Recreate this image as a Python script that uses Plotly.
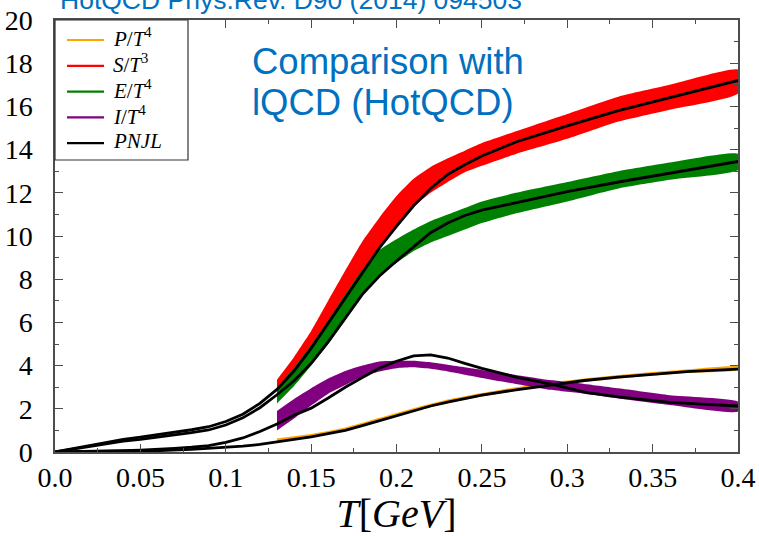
import plotly.graph_objects as go

# ---------------- lattice QCD bands (HotQCD) ----------------
T_lat = [0.13, 0.14, 0.15, 0.16, 0.17, 0.18, 0.19, 0.20, 0.21, 0.22, 0.23,
         0.24, 0.25, 0.27, 0.30, 0.33, 0.36, 0.40]
S_lat_lo = [2.80, 3.55, 4.50, 5.80, 7.10, 8.35, 9.40, 10.45, 11.35, 12.00, 12.50,
            12.95, 13.25, 13.80, 14.50, 15.30, 15.85, 16.60]
S_lat_hi = [3.35, 4.40, 5.60, 7.00, 8.40, 9.75, 10.85, 11.85, 12.65, 13.20, 13.60,
            13.95, 14.30, 14.85, 15.65, 16.45, 17.00, 17.70]
E_lat_lo = [2.25, 3.05, 4.00, 5.00, 6.10, 7.25, 8.15, 8.75, 9.30, 9.70, 10.00,
            10.30, 10.60, 11.05, 11.60, 12.20, 12.60, 13.05]
E_lat_hi = [3.00, 3.90, 4.95, 6.10, 7.30, 8.45, 9.35, 9.85, 10.30, 10.70, 11.00,
            11.30, 11.60, 12.00, 12.50, 13.00, 13.40, 13.80]

T_lat_I = [0.13, 0.14, 0.15, 0.16, 0.17, 0.18, 0.19, 0.20, 0.21, 0.22, 0.23,
           0.24, 0.25, 0.27, 0.29, 0.31, 0.33, 0.36, 0.40]
I_lat_lo = [1.00, 1.55, 2.15, 2.70, 3.10, 3.50, 3.73, 3.88, 3.92, 3.85, 3.73,
            3.58, 3.43, 3.15, 2.88, 2.70, 2.48, 2.18, 1.87]
I_lat_hi = [1.90, 2.45, 2.95, 3.40, 3.75, 4.00, 4.19, 4.22, 4.22, 4.15, 4.04,
            3.92, 3.80, 3.57, 3.33, 3.15, 2.95, 2.63, 2.33]

T_lat_P = [0.13, 0.15, 0.17, 0.19, 0.21, 0.23, 0.25, 0.27, 0.29, 0.31, 0.33,
           0.35, 0.37, 0.40]
P_lat_lo = [0.47, 0.67, 0.97, 1.42, 1.87, 2.27, 2.57, 2.84, 3.05, 3.24, 3.40,
            3.54, 3.66, 3.80]
P_lat_hi = [0.63, 0.83, 1.13, 1.58, 2.03, 2.43, 2.73, 3.00, 3.21, 3.40, 3.56,
            3.70, 3.82, 3.96]

# ---------------- PNJL model curves ----------------
T_pnjl = [0.00, 0.01, 0.02, 0.03, 0.04, 0.05, 0.06, 0.07, 0.08, 0.09, 0.10,
          0.11, 0.12, 0.13, 0.14, 0.15, 0.16, 0.17, 0.18, 0.19, 0.20, 0.21,
          0.22, 0.23, 0.24, 0.25, 0.27, 0.30, 0.33, 0.36, 0.40]
S_pnjl = [0.00, 0.15, 0.30, 0.45, 0.58, 0.69, 0.80, 0.92, 1.03, 1.17, 1.41,
          1.75, 2.25, 2.90, 3.75, 4.80, 5.95, 7.10, 8.30, 9.45, 10.45, 11.40,
          12.20, 12.85, 13.30, 13.70, 14.35, 15.10, 15.80, 16.40, 17.20]
E_pnjl = [0.00, 0.13, 0.26, 0.39, 0.50, 0.58, 0.68, 0.80, 0.90, 1.02, 1.25,
          1.58, 2.05, 2.65, 3.30, 4.10, 5.10, 6.20, 7.30, 8.15, 8.85, 9.50,
          10.15, 10.60, 10.95, 11.20, 11.55, 12.05, 12.50, 12.90, 13.45]

T_pnjl_I = [0.00, 0.02, 0.04, 0.05, 0.06, 0.07, 0.08, 0.09, 0.10, 0.11, 0.12,
            0.13, 0.14, 0.15, 0.16, 0.17, 0.18, 0.19, 0.20, 0.21, 0.22, 0.23,
            0.24, 0.25, 0.27, 0.29, 0.31, 0.33, 0.36, 0.40]
I_pnjl = [0.00, 0.02, 0.06, 0.09, 0.12, 0.17, 0.22, 0.30, 0.45, 0.65, 0.95,
          1.30, 1.70, 2.03, 2.50, 3.00, 3.45, 3.88, 4.20, 4.45, 4.50, 4.35,
          4.10, 3.87, 3.47, 3.15, 2.77, 2.55, 2.30, 2.13]

T_pnjl_P = [0.00, 0.02, 0.04, 0.06, 0.08, 0.10, 0.11, 0.12, 0.13, 0.14, 0.15,
            0.16, 0.17, 0.18, 0.19, 0.20, 0.21, 0.22, 0.23, 0.24, 0.25, 0.27,
            0.29, 0.31, 0.33, 0.35, 0.37, 0.40]
P_pnjl = [0.00, 0.01, 0.03, 0.06, 0.12, 0.20, 0.27, 0.35, 0.48, 0.58, 0.70,
          0.84, 1.00, 1.22, 1.45, 1.70, 1.93, 2.13, 2.31, 2.48, 2.63, 2.88,
          3.10, 3.31, 3.47, 3.60, 3.72, 3.84]

# ---------------- axis ticks and legend labels ----------------
x_tickvals = [0.0, 0.05, 0.1, 0.15, 0.2, 0.25, 0.3, 0.35, 0.4]
x_ticktext = ["0.0", "0.05", "0.1", "0.15", "0.2", "0.25", "0.3", "0.35", "0.4"]
y_tickvals = [0, 2, 4, 6, 8, 10, 12, 14, 16, 18, 20]

legend_names = ["<i>P</i>/<i>T</i><sup>4</sup>", "<i>S</i>/<i>T</i><sup>3</sup>",
                "<i>E</i>/<i>T</i><sup>4</sup>", "<i>I</i>/<i>T</i><sup>4</sup>",
                "<i>PNJL</i>"]
legend_colors = ["#FFA500", "#FF0000", "#008000", "#800080", "#000000"]

SERIF = "Liberation Serif"
SANS = "Liberation Sans"

# plot-area geometry in pixels (page 759 x 536)
ML, MR, MT, MB = 55, 21, 20, 84
PW, PH = 759 - ML - MR, 536 - MT - MB


def px_x(p):
    return (p - ML) / PW


def px_y(p):
    return 1 - (p - MT) / PH


fig = go.Figure()


def band(t, lo, hi, color):
    fig.add_trace(go.Scatter(
        x=list(t) + list(t)[::-1], y=list(hi) + list(lo)[::-1],
        mode="lines", fill="toself", fillcolor=color,
        line=dict(width=0, color=color, shape="spline", smoothing=0.5),
        hoverinfo="skip", showlegend=False))


band(T_lat_P, P_lat_lo, P_lat_hi, legend_colors[0])
band(T_lat, S_lat_lo, S_lat_hi, legend_colors[1])
band(T_lat, E_lat_lo, E_lat_hi, legend_colors[2])
band(T_lat_I, I_lat_lo, I_lat_hi, legend_colors[3])

for t, v in [(T_pnjl, S_pnjl), (T_pnjl, E_pnjl), (T_pnjl_I, I_pnjl), (T_pnjl_P, P_pnjl)]:
    fig.add_trace(go.Scatter(x=t, y=v, mode="lines",
                             line=dict(color="black", width=2.8),
                             showlegend=False, hoverinfo="skip"))

axis_common = dict(
    showline=True, linecolor="#4d4d4d", linewidth=1.5, mirror="ticks",
    ticks="inside", ticklen=8, tickwidth=1.2, tickcolor="#4d4d4d",
    showgrid=False, zeroline=False, automargin=False,
    tickfont=dict(family=SERIF, size=28, color="black"),
)

fig.update_xaxes(
    range=[0, 0.4], tickmode="array", tickvals=x_tickvals, ticktext=x_ticktext,
    minor=dict(ticks="inside", ticklen=4, dtick=0.025, tick0=0,
               tickcolor="#4d4d4d", tickwidth=1.2, showgrid=False),
    title=dict(text="<i>T</i>[<i>GeV</i>]", font=dict(family=SERIF, size=40, color="black"),
               standoff=4),
    **axis_common)
fig.update_yaxes(
    range=[0, 20], tickmode="array", tickvals=y_tickvals, ticklabelstandoff=15,
    minor=dict(ticks="inside", ticklen=4, dtick=1, tick0=0,
               tickcolor="#4d4d4d", tickwidth=1.2, showgrid=False),
    **axis_common)

fig.update_layout(
    width=759, height=536,
    margin=dict(l=ML, r=MR, t=MT, b=MB),
    plot_bgcolor="white", paper_bgcolor="white",
    showlegend=False,
)

# boxed key in the upper-left corner of the frame
fig.add_shape(type="rect", xref="paper", yref="paper",
              x0=px_x(55), x1=px_x(188), y0=px_y(160), y1=px_y(20),
              line=dict(color="#333333", width=1.2), fillcolor="white", layer="above")
for i, (name, col) in enumerate(zip(legend_names, legend_colors)):
    row = px_y(40 + 25.8 * i)
    fig.add_shape(type="line", xref="paper", yref="paper",
                  x0=px_x(67), x1=px_x(104), y0=row, y1=row,
                  line=dict(color=col, width=2.2), layer="above")
    fig.add_annotation(text=name, xref="paper", yref="paper",
                       x=px_x(111), y=row + 2 / PH,
                       xanchor="left", yanchor="middle", showarrow=False,
                       font=dict(family=SERIF, size=21, color="black"))

fig.add_annotation(text="HotQCD Phys.Rev. D90 (2014) 094503",
                   xref="paper", yref="paper", x=0.004, y=1.006,
                   xanchor="left", yanchor="bottom", showarrow=False,
                   font=dict(family=SANS, size=26.5, color="#0070C0"))
fig.add_annotation(text="Comparison with",
                   xref="paper", yref="paper", x=0.285, y=0.905,
                   xanchor="left", yanchor="middle", showarrow=False,
                   font=dict(family=SANS, size=36.5, color="#0070C0"))
fig.add_annotation(text="lQCD (HotQCD)",
                   xref="paper", yref="paper", x=0.285, y=0.808,
                   xanchor="left", yanchor="middle", showarrow=False,
                   font=dict(family=SANS, size=36.5, color="#0070C0"))

fig.write_html("out.html")
